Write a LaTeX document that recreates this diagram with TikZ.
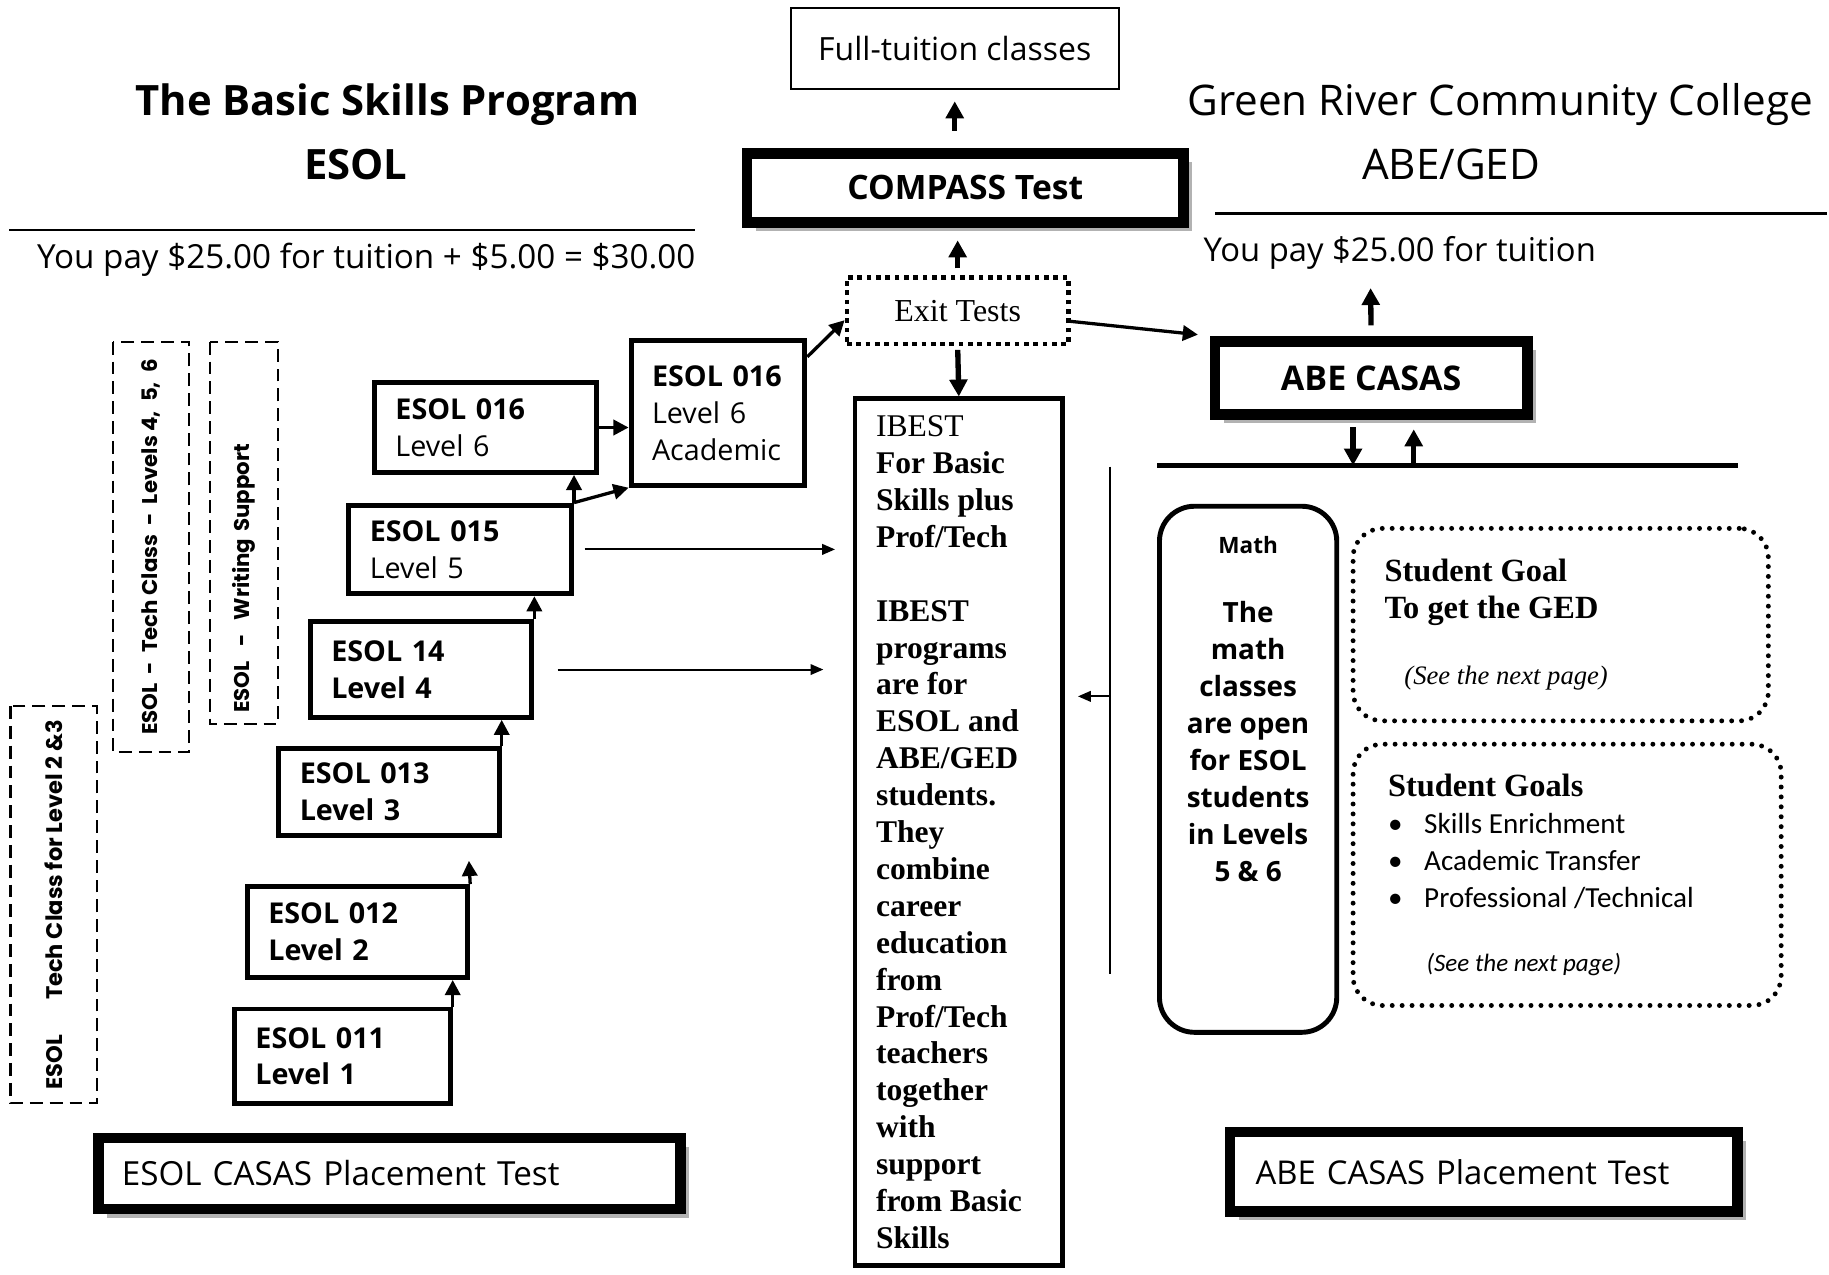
\documentclass[tikz,border=0pt]{standalone}
\usepackage{fontspec}
\setmainfont{Open Sans}
\newfontfamily\timesf{Liberation Serif}
\newfontfamily\calibf{Carlito}
\newfontfamily\gothicf{Poppins}
\usetikzlibrary{arrows.meta,shadows}

\tikzset{
  arr/.style={-{Triangle[length=1.3mm, width=1.3mm]}, line width=0.8pt},
  bigarr/.style={-{Triangle[length=1.45mm, width=1.5mm]}, line width=1.3pt},
  thinarr/.style={-{Triangle[length=1.1mm, width=0.9mm]}, line width=0.5pt},
  esolbox/.style={draw, line width=1.2pt, align=left, inner xsep=1.8mm,
    font=\fontsize{7}{9}\selectfont},
  testbox/.style={draw, line width=2.6pt, fill=white,
    drop shadow={shadow xshift=0.75mm, shadow yshift=-0.75mm, fill=gray!60, opacity=1}},
  sidebox/.style={draw, dash pattern=on 1.1mm off 0.6mm, line width=0.5pt, rotate=90,
    font=\gothicf\bfseries\fontsize{5.2}{6}\selectfont},
  goalbox/.style={draw, line width=1.2pt, line cap=round, dash pattern=on 0pt off 0.85mm,
    rounded corners=2.5mm, align=left},
}

\begin{document}
\begin{tikzpicture}[x=0.1mm, y=-0.1mm]
    \path[use as bounding box, fill=white] (0,0) rectangle (1568,1093);
    % Titles
    \node[font=\bfseries\fontsize{10.2}{12}\selectfont] (titleL) at (332,90) {The Basic Skills Program};
    \node[font=\bfseries\fontsize{10.2}{12}\selectfont] (esolL) at (305,141) {ESOL};
    \draw[line width=0.6pt] (8,197) -- (596,197);% rule under the left title
    \node[font=\fontsize{8.1}{10}\selectfont] (payL) at (314,223) {You pay \$25.00 for tuition + \$5.00 = \$30.00};
    \node[font=\fontsize{10.3}{12}\selectfont] (titleR) at (1286,90) {Green River Community College};
    \node[font=\fontsize{10.3}{12}\selectfont] (abeged) at (1244,141) {ABE/GED};
    \draw[line width=0.6pt] (1042,183) -- (1566,183);% rule under the right title
    \node[font=\fontsize{8}{10}\selectfont] (payR) at (1200,217) {You pay \$25.00 for tuition};
    %
    % Tests in the middle
    \node[draw, line width=0.5pt, minimum width=28.1mm, minimum height=6.9mm,
        font=\fontsize{7.8}{10}\selectfont] (full) at (818.5,41.5) {Full-tuition classes};
    \node[testbox, minimum width=37.4mm, minimum height=5.9mm,
        font=\bfseries\fontsize{8.2}{10}\selectfont] (compass) at (827.5,161) {COMPASS Test};
    \node[draw, line width=1.1pt, dash pattern=on 0.4mm off 0.4mm, minimum width=19mm,
        minimum height=5.7mm, font=\timesf\fontsize{7.8}{9}\selectfont] (exit) at (821,266.5) {Exit Tests};
    \node[draw, line width=1.2pt, minimum width=17.8mm, minimum height=74.3mm, text width=14.2mm,
        inner xsep=1.8mm, align=left, font=\timesf\fontsize{7.7}{9}\selectfont] (ibest) at (822,713.5)
        {\spaceskip=0pt IBEST\\ \bfseries For Basic\\ Skills plus\\ Prof/Tech\\[9pt] IBEST\\ programs\\ are for\\
        ESOL and\\ ABE/GED\\ students.\\ They\\ combine\\ career\\ education\\ from\\ Prof/Tech\\
        teachers\\ together\\ with\\ support\\ from Basic\\ Skills};
    %
    % ESOL levels
    \node[esolbox, minimum width=18.5mm, minimum height=8.1mm, text width=14.9mm] (esol11) at (293.5,905.5)
        {\textbf{ESOL 011}\\ \textbf{Level 1}};
    \node[esolbox, minimum width=18.9mm, minimum height=7.8mm, text width=15.3mm] (esol12) at (306.5,799)
        {\textbf{ESOL 012}\\ \textbf{Level 2}};
    \node[esolbox, minimum width=18.9mm, minimum height=7.4mm, text width=15.3mm] (esol13) at (333.5,679)
        {\textbf{ESOL 013}\\ \textbf{Level 3}};
    \node[esolbox, minimum width=19mm, minimum height=8.2mm, text width=15.4mm] (esol14) at (361,574)
        {\textbf{ESOL 14}\\ \textbf{Level 4}};
    \node[esolbox, minimum width=19.1mm, minimum height=7.6mm, text width=15.5mm] (esol15) at (394.5,471)
        {\textbf{ESOL 015}\\ Level 5};
    \node[esolbox, minimum width=19mm, minimum height=7.7mm, text width=15.4mm] (esol16) at (416,366.5)
        {\textbf{ESOL 016}\\ Level 6};
    \node[esolbox, minimum width=14.9mm, minimum height=12.4mm, text width=11.3mm] (acad) at (615.5,354)
        {\textbf{ESOL 016}\\ Level 6\\ Academic};
    \node[testbox, minimum width=49.9mm, minimum height=6.1mm, text width=45.9mm, inner xsep=2mm,
        align=left, font=\fontsize{8.1}{10}\selectfont] (esolcasas) at (334,1006) {ESOL CASAS Placement Test};
    %
    % Tech and writing classes
    \node[sidebox, minimum width=35.2mm, minimum height=6.5mm] (tech456) at (129.5,469)
        {ESOL\ \ -\ \ Tech Class\ \ -\ \ Levels 4,\ \ 5,\ \ 6};
    \node[sidebox, minimum width=32.8mm, minimum height=5.8mm, text width=30.8mm, inner xsep=1mm,
        align=left] (writing) at (209,457) {ESOL\ \ -\ \ Writing Support};
    \node[sidebox, minimum width=33.5mm, minimum height=7.4mm, font=\gothicf\bfseries\fontsize{5.5}{6}\selectfont]
        (tech23) at (46,775.5) {ESOL\hspace{3mm}Tech Class for Level 2 \&3};
    %
    % ABE side
    \node[testbox, minimum width=26.8mm, minimum height=6.3mm,
        font=\bfseries\fontsize{8.3}{10}\selectfont] (abe) at (1175.5,324) {ABE CASAS};
    \coordinate (barL) at (992,399);
    \coordinate (barR) at (1490,399);
    \draw[line width=1.2pt] (barL) -- (barR);% bar under ABE CASAS
    \node[draw, line width=1.2pt, rounded corners=3mm, minimum width=15.2mm, minimum height=45.1mm,
        inner sep=0pt, font=\bfseries\fontsize{6.8}{9}\selectfont] (math) at (1070,659.5)
        {\parbox[c][40mm][t]{15mm}{\centering{\fontsize{5.5}{9}\selectfont Math}\\[8pt] The\\ math\\
        classes\\ are open\\ for ESOL\\ students\\ in Levels\\ 5 \& 6}};
    \node[goalbox, minimum width=35.6mm, minimum height=16.5mm, text width=30.2mm, inner xsep=2.7mm,
        font=\timesf\fontsize{7.9}{9}\selectfont] (goal) at (1338,535.5)
        {\spaceskip=0pt\xspaceskip=0pt \textbf{Student Goal}\\ \textbf{To get the GED}\\[7pt]
        \hspace*{1.7mm}\itshape\fontsize{6.5}{9}\selectfont (See the next page)};
    \node[goalbox, minimum width=36.7mm, minimum height=22.4mm, text width=30.7mm, inner xsep=3mm,
        font=\timesf\fontsize{7.9}{9}\selectfont] (goals) at (1343.5,750)
        {\spaceskip=0pt\xspaceskip=0pt \textbf{Student Goals}\\ \calibf\fontsize{7.1}{9}\selectfont
        \makebox[3.1mm][l]{•}Skills Enrichment\\
        \makebox[3.1mm][l]{•}Academic Transfer\\
        \makebox[3.1mm][l]{•}Professional /Technical\\[6.5pt]
        \hspace*{3.3mm}\itshape\fontsize{6.1}{9}\selectfont (See the next page)};
    \node[testbox, minimum width=43.5mm, minimum height=6.8mm, text width=39.1mm, inner xsep=2.2mm,
        align=left, font=\fontsize{8}{10}\selectfont] (abecasas) at (1272,1004.5) {ABE CASAS Placement Test};
    %
    % Arrows up the ESOL ladder
    \draw[arr] (esol11.north east) -- (esol11.north east |- esol12.south);
    \coordinate (toesol13) at (402,738);
    \draw[arr] (esol12.north east) -- (toesol13);
    \draw[arr] (esol13.north east) -- (esol13.north east |- esol14.south);
    \draw[arr] (esol14.north east) -- (esol14.north east |- esol15.south);
    \draw[arr] (esol15.north east) -- (esol15.north east |- esol16.south);
    \draw[arr] (esol15.north east) -- (acad.south west);
    \draw[arr] (esol16.east) -- (esol16.east -| acad.west);
    \draw[arr] ([yshift=-1.6mm]acad.north east) -- ([yshift=-0.8mm]exit.west);
    % Arrows into IBEST
    \draw[thinarr] ([xshift=0.9mm]esol15.east) -- ([xshift=-1.5mm]ibest.west |- esol15.east);
    \draw[thinarr] ([xshift=2mm]esol14.east) -- ([xshift=-2.5mm]ibest.west |- esol14.east);
    \draw[bigarr, shorten <=0.3mm] (exit.south) -- (ibest.north);
    % Arrows to the tests
    \draw[bigarr, shorten <=0.6mm, shorten >=1.1mm] (exit.north) -- (exit.north |- compass.south);
    \draw[bigarr, shorten <=1.5mm, shorten >=1mm] (full.south |- compass.north) -- (full.south);
    \draw[arr, shorten >=1mm] ([yshift=-0.9mm]exit.east) -- (abe.north west);
    \coordinate (topayR) at (1175,247);
    \draw[bigarr, shorten <=0.9mm] (abe.north) -- (topayR);
    \draw[bigarr, shorten <=0.6mm] ([xshift=-1.55mm]abe.south) -- ([xshift=-1.55mm]abe.south |- barL);
    \draw[bigarr, shorten >=0.8mm] ([xshift=3.65mm]abe.south |- barL) -- ([xshift=3.65mm]abe.south);
    % Line back to IBEST
    \coordinate (fbtop) at (952,400);
    \coordinate (fbbot) at (952,835);
    \coordinate (fbmid) at (952,597);
    \draw[line width=0.5pt] (fbtop) -- (fbbot);
    \draw[thinarr] (fbmid) -- ([xshift=1.1mm]ibest.east |- fbmid);
\end{tikzpicture}
\end{document}
